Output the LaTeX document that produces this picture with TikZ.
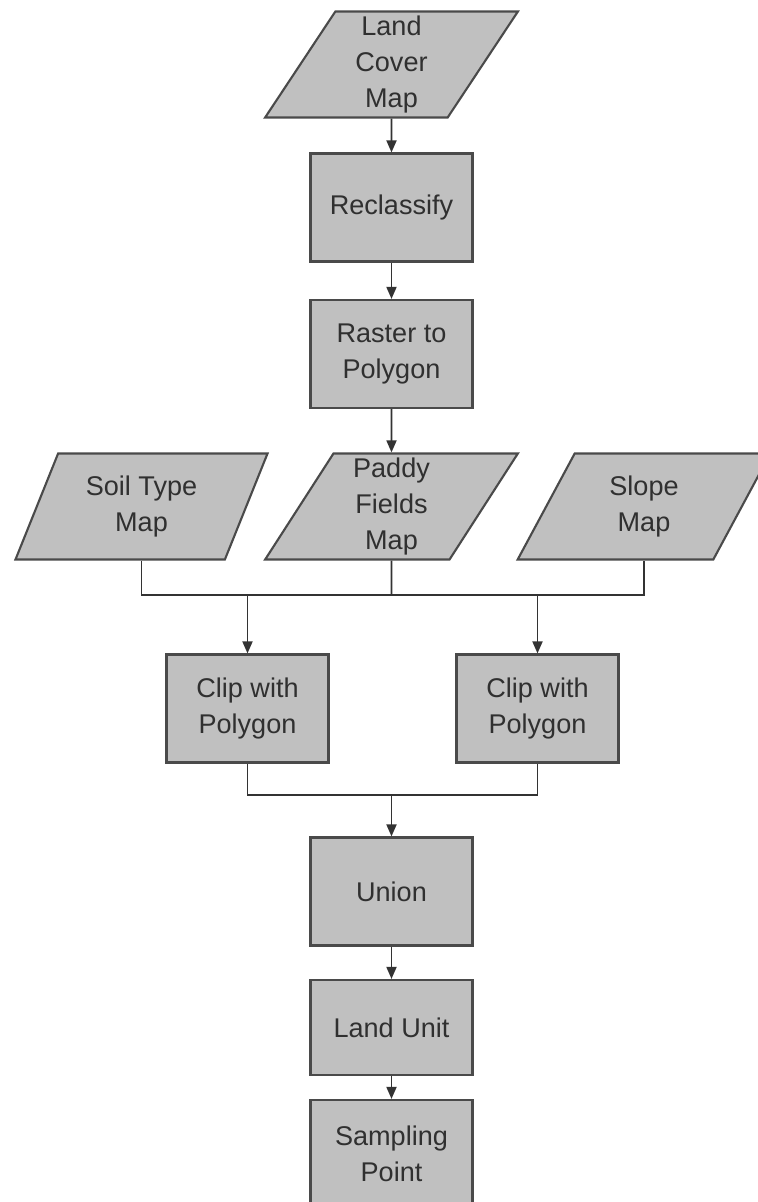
\documentclass[tikz,border=0pt]{standalone}
\usepackage{fontspec}
\setmainfont{Liberation Sans}
\usetikzlibrary{shapes.geometric,arrows.meta}
\definecolor{boxgray}{HTML}{C0C0C0}
\definecolor{edgegray}{HTML}{4A4A4A}
\definecolor{txtgray}{HTML}{303030}
\tikzset{
	proc/.style={draw=edgegray, line width=0.6pt, fill=boxgray, minimum width=1.62cm, minimum height=1.08cm, inner sep=0pt, align=center, text=txtgray, font=\fontsize{7.7}{10.2}\selectfont},
	datamap/.style={trapezium, trapezium left angle=65, trapezium right angle=115, trapezium stretches=true, draw=edgegray, line width=0.6pt, fill=boxgray, minimum width=2.53cm, minimum height=1.06cm, inner sep=0pt, align=center, text=txtgray, font=\fontsize{7.7}{10.2}\selectfont},
	link/.style={draw=black!80, line width=0.5pt},
	arr/.style={link, -{Triangle[length=1.2mm,width=1mm]}}
}
\begin{document}
\begin{tikzpicture}[x=0.01cm,y=-0.01cm]
		\clip (0,0) rectangle (758,1202);
		%Центральная колонка
		\node[datamap] (land) at (391.5,64.5) {Land\\Cover\\Map};
		\node[proc] (recl) at (391.5,207.5) {Reclassify};
		\node[proc] (rast) at (391.5,354) {Raster to\\Polygon};
		
		%Карты
		\node[datamap] (soil) at (141.5,506.5) {Soil Type\\Map};
		\node[datamap] (paddy) at (391.5,506.5) {Paddy\\Fields\\Map};
		\node[datamap] (slope) at (644,506.5) {Slope\\Map};
		
		%Обрезка
		\node[proc] (clipa) at (247.5,708.5) {Clip with\\Polygon};
		\node[proc] (clipb) at (537.5,708.5) {Clip with\\Polygon};
		
		%Низ
		\node[proc] (union) at (391.5,891.5) {Union};
		\node[proc, minimum height=0.95cm] (unit) at (391.5,1027.5) {Land Unit};
		\node[proc] (samp) at (391.5,1154) {Sampling\\Point};
		
		%Стрелки
		\draw[arr] (land.south) -- (recl.north);
		\draw[arr] (recl.south) -- (rast.north);
		\draw[arr] (rast.south) -- (paddy.north);
		
		\coordinate (bus) at (391.5,595);
		\draw[link] (soil.south) |- (bus) -| (slope.south);
		\draw[link] (paddy.south) -- (bus);
		\draw[arr] (clipa.north |- bus) -- (clipa.north);
		\draw[arr] (clipb.north |- bus) -- (clipb.north);
		
		\coordinate (join) at (391.5,795);
		\draw[link] (clipa.south) |- (join) -| (clipb.south);
		\draw[arr] (join) -- (union.north);
		\draw[arr] (union.south) -- (unit.north);
		\draw[arr] (unit.south) -- (samp.north);
\end{tikzpicture}
\end{document}
